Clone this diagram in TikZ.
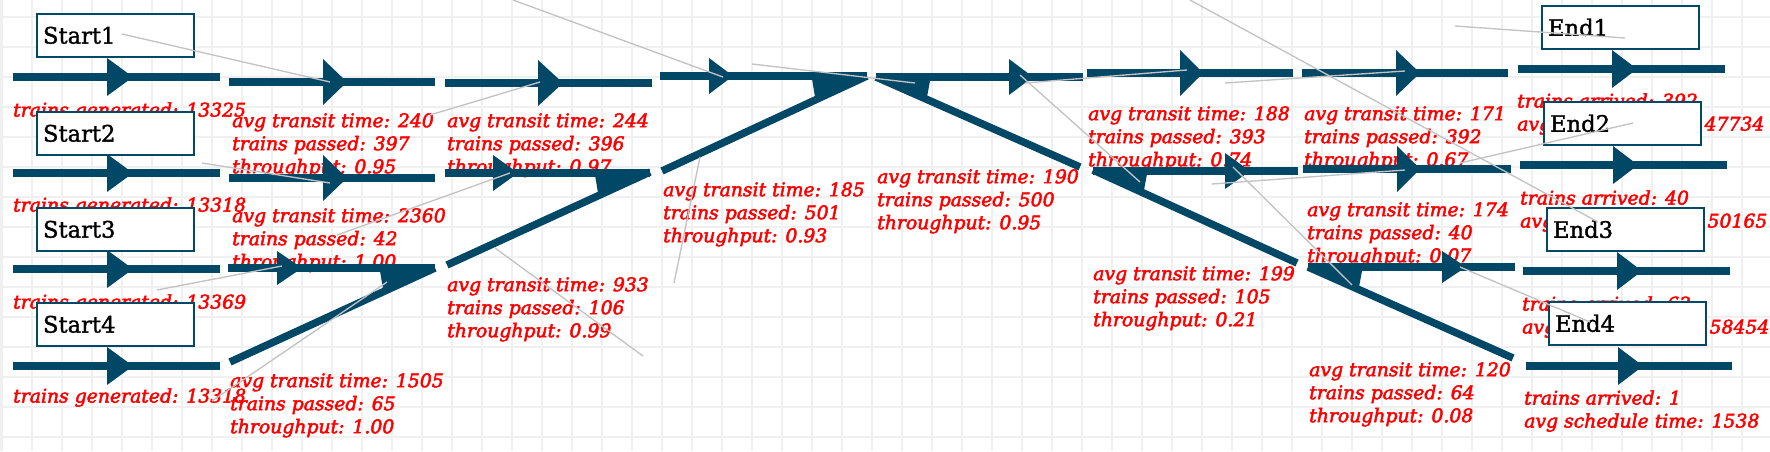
\documentclass[tikz,border=0pt]{standalone}
\usepackage{fontspec}
\setmainfont{DejaVu Serif}
\newfontfamily\lblfont[ItalicFeatures={FakeBold=2.6}]{DejaVu Serif}
\newfontfamily\boxfont[FakeBold=1.4]{DejaVu Serif}
\definecolor{trackblue}{RGB}{1,71,102}
\definecolor{gridgray}{RGB}{240,240,240}
\definecolor{leadgray}{RGB}{195,195,195}
\tikzset{
  gridline/.style={draw=gridgray, line width=1.8pt},
  track/.style={draw=trackblue, line width=5.6pt},
  tip/.style={fill=trackblue},
  leader/.style={draw=leadgray, line width=1pt},
  lbl/.style={anchor=north west, inner sep=0.75pt, align=left, text=red,
    font=\lblfont\itshape\fontsize{14.1}{17.25}\selectfont},
  stationbox/.style={draw=trackblue, line width=1.5pt, fill=white, anchor=north west,
    outer sep=0pt, minimum height=32pt, text width=108.75pt, inner xsep=4.5pt,
    font=\boxfont\fontsize{17}{20}\selectfont}
}
\begin{document}
\begin{tikzpicture}[x=0.75pt,y=0.75pt,yscale=-1,xscale=1]
\path[use as bounding box, fill=white] (0,0) rectangle (1770,451);
%background grid
\foreach \gx in {1.7,31.7,...,1770} {\draw[gridline] (\gx,0) -- (\gx,451);}
\foreach \gy in {16.7,46.7,...,451} {\draw[gridline] (0,\gy) -- (1770,\gy);}

% Text Node
\draw (12,101) node [lbl] (gen1) {trains generated: 13325};
% Text Node
\draw (12,196) node [lbl] (gen2) {trains generated: 13318};
% Text Node
\draw (12,293) node [lbl] (gen3) {trains generated: 13369};
% Text Node
\draw (12,387) node [lbl] (gen4) {trains generated: 13318};
% Text Node
\draw (231,112) node [lbl] (stat240) {avg transit time: 240\\trains passed: 397\\throughput: 0.95};
% Text Node
\draw (231,207) node [lbl] (stat2360) {avg transit time: 2360\\trains passed: 42\\throughput: 1.00};
% Text Node
\draw (229,372) node [lbl] (stat1505) {avg transit time: 1505\\trains passed: 65\\throughput: 1.00};
% Text Node
\draw (446,112) node [lbl] (stat244) {avg transit time: 244\\trains passed: 396\\throughput: 0.97};
% Text Node
\draw (446,276) node [lbl] (stat933) {avg transit time: 933\\trains passed: 106\\throughput: 0.99};
% Text Node
\draw (662,181) node [lbl] (stat185) {avg transit time: 185\\trains passed: 501\\throughput: 0.93};
% Text Node
\draw (876,168) node [lbl] (stat190) {avg transit time: 190\\trains passed: 500\\throughput: 0.95};
% Text Node
\draw (1087,105) node [lbl] (stat188) {avg transit time: 188\\trains passed: 393\\throughput: 0.74};
% Text Node
\draw (1303,105) node [lbl] (stat171) {avg transit time: 171\\trains passed: 392\\throughput: 0.67};
% Text Node
\draw (1306,201) node [lbl] (stat174) {avg transit time: 174\\trains passed: 40\\throughput: 0.07};
% Text Node
\draw (1092,265) node [lbl] (stat199) {avg transit time: 199\\trains passed: 105\\throughput: 0.21};
% Text Node
\draw (1308,361) node [lbl] (stat120) {avg transit time: 120\\trains passed: 64\\throughput: 0.08};
% Text Node
\draw (1516,92) node [lbl] (arr1) {trains arrived: 392\\avg schedule time: 47734};
% Text Node
\draw (1519,189) node [lbl] (arr2) {trains arrived: 40\\avg schedule time: 50165};
% Text Node
\draw (1521,295) node [lbl] (arr3) {trains arrived: 63\\avg schedule time: 58454};
% Text Node
\draw (1523,389) node [lbl] (arr4) {trains arrived: 1\\avg schedule time: 1538};

%tracks, start side
\draw[track] (13,77) -- (220,77);
\fill[tip] (107,58) -- (133,77) -- (107,96) -- cycle;
\draw[track] (13,173) -- (220,173);
\fill[tip] (107,154) -- (133,173) -- (107,192) -- cycle;
\draw[track] (13,269) -- (220,269);
\fill[tip] (107,250) -- (133,269) -- (107,288) -- cycle;
\draw[track] (13,366) -- (220,366);
\fill[tip] (107,347) -- (133,366) -- (107,385) -- cycle;
\draw[track] (229,82) -- (435,82);
\fill[tip] (323,59) -- (347,82) -- (323,105) -- cycle;
\draw[track] (229,178) -- (435,178);
\fill[tip] (323,155) -- (347,178) -- (323,201) -- cycle;
\draw[track] (228,268) -- (435,268);
\fill[tip] (277,251) -- (302,268) -- (277,285) -- cycle;
\draw[track] (230,362) -- (435,268);
\fill[tip] (435,268) -- (380,271) -- (383,289) -- cycle;
\draw[track] (445,83) -- (652,83);
\fill[tip] (538,60) -- (563,83) -- (538,106) -- cycle;
\draw[track] (445,173) -- (650,173);
\fill[tip] (493,155) -- (518,173) -- (493,191) -- cycle;
\draw[track] (447,265) -- (650,172);
\fill[tip] (650,172) -- (595,175) -- (598,193) -- cycle;
\draw[track] (660,76) -- (867,76);
\fill[tip] (709,58) -- (733,76) -- (709,94) -- cycle;
\draw[track] (662,171) -- (867,76);
\fill[tip] (867,76) -- (812,79) -- (815,97) -- cycle;
%tracks, end side
\draw[track] (876,77) -- (1083,77);
\fill[tip] (1009,59) -- (1033,77) -- (1009,95) -- cycle;
\draw[track] (876,77) -- (1080,167);
\fill[tip] (876,77) -- (930,81) -- (927,97) -- cycle;
\draw[track] (1087,73) -- (1293,73);
\fill[tip] (1180,50) -- (1203,73) -- (1180,96) -- cycle;
\draw[track] (1093,171) -- (1298,171);
\fill[tip] (1225,153) -- (1250,171) -- (1225,189) -- cycle;
\draw[track] (1093,170) -- (1297,263);
\fill[tip] (1093,170) -- (1147,174) -- (1144,190) -- cycle;
\draw[track] (1302,73) -- (1508,73);
\fill[tip] (1396,50) -- (1420,73) -- (1396,96) -- cycle;
\draw[track] (1303,169) -- (1511,169);
\fill[tip] (1397,146) -- (1420,169) -- (1397,192) -- cycle;
\draw[track] (1308,267) -- (1515,267);
\fill[tip] (1442,251) -- (1466,267) -- (1442,283) -- cycle;
\draw[track] (1308,267) -- (1513,358);
\fill[tip] (1308,267) -- (1362,271) -- (1359,287) -- cycle;
\draw[track] (1518,69) -- (1725,69);
\fill[tip] (1612,50) -- (1637,69) -- (1612,88) -- cycle;
\draw[track] (1520,165) -- (1727,165);
\fill[tip] (1613,146) -- (1638,165) -- (1613,184) -- cycle;
\draw[track] (1523,271) -- (1730,271);
\fill[tip] (1617,252) -- (1642,271) -- (1617,290) -- cycle;
\draw[track] (1526,366) -- (1732,366);
\fill[tip] (1618,347) -- (1643,366) -- (1618,385) -- cycle;

% Shape: Rectangle
\draw (37,14) node [stationbox] (start1) {Start1};
\draw (37,112) node [stationbox] (start2) {Start2};
\draw (37,208) node [stationbox] (start3) {Start3};
\draw (37,303) node [stationbox] (start4) {Start4};
\draw (1542,6) node [stationbox] (end1) {End1};
\draw (1544,102) node [stationbox] (end2) {End2};
\draw (1547,208) node [stationbox] (end3) {End3};
\draw (1549,302) node [stationbox] (end4) {End4};

%leader lines
\draw[leader] (122,34) -- (330,82);
\draw[leader] (202,163) -- (330,183);
\draw[leader] (430,115) -- (540,82);
\draw[leader] (337,235) -- (510,173);
\draw[leader] (157,290) -- (282,266);
\draw[leader] (387,282) -- (212,401);
\draw[leader] (513,0) -- (723,77);
\draw[leader] (752,64) -- (915,83);
\draw[leader] (700,157) -- (674,283);
\draw[leader] (495,248) -- (643,356);
\draw[leader] (1190,0) -- (1598,222);
\draw[leader] (1020,75) -- (1140,182);
\draw[leader] (1025,83) -- (1187,70);
\draw[leader] (1455,26) -- (1625,38);
\draw[leader] (1225,83) -- (1405,71);
\draw[leader] (1212,184) -- (1405,170);
\draw[leader] (1460,163) -- (1633,123);
\draw[leader] (1233,167) -- (1352,285);
\draw[leader] (1460,267) -- (1590,322);

\end{tikzpicture}
\end{document}
